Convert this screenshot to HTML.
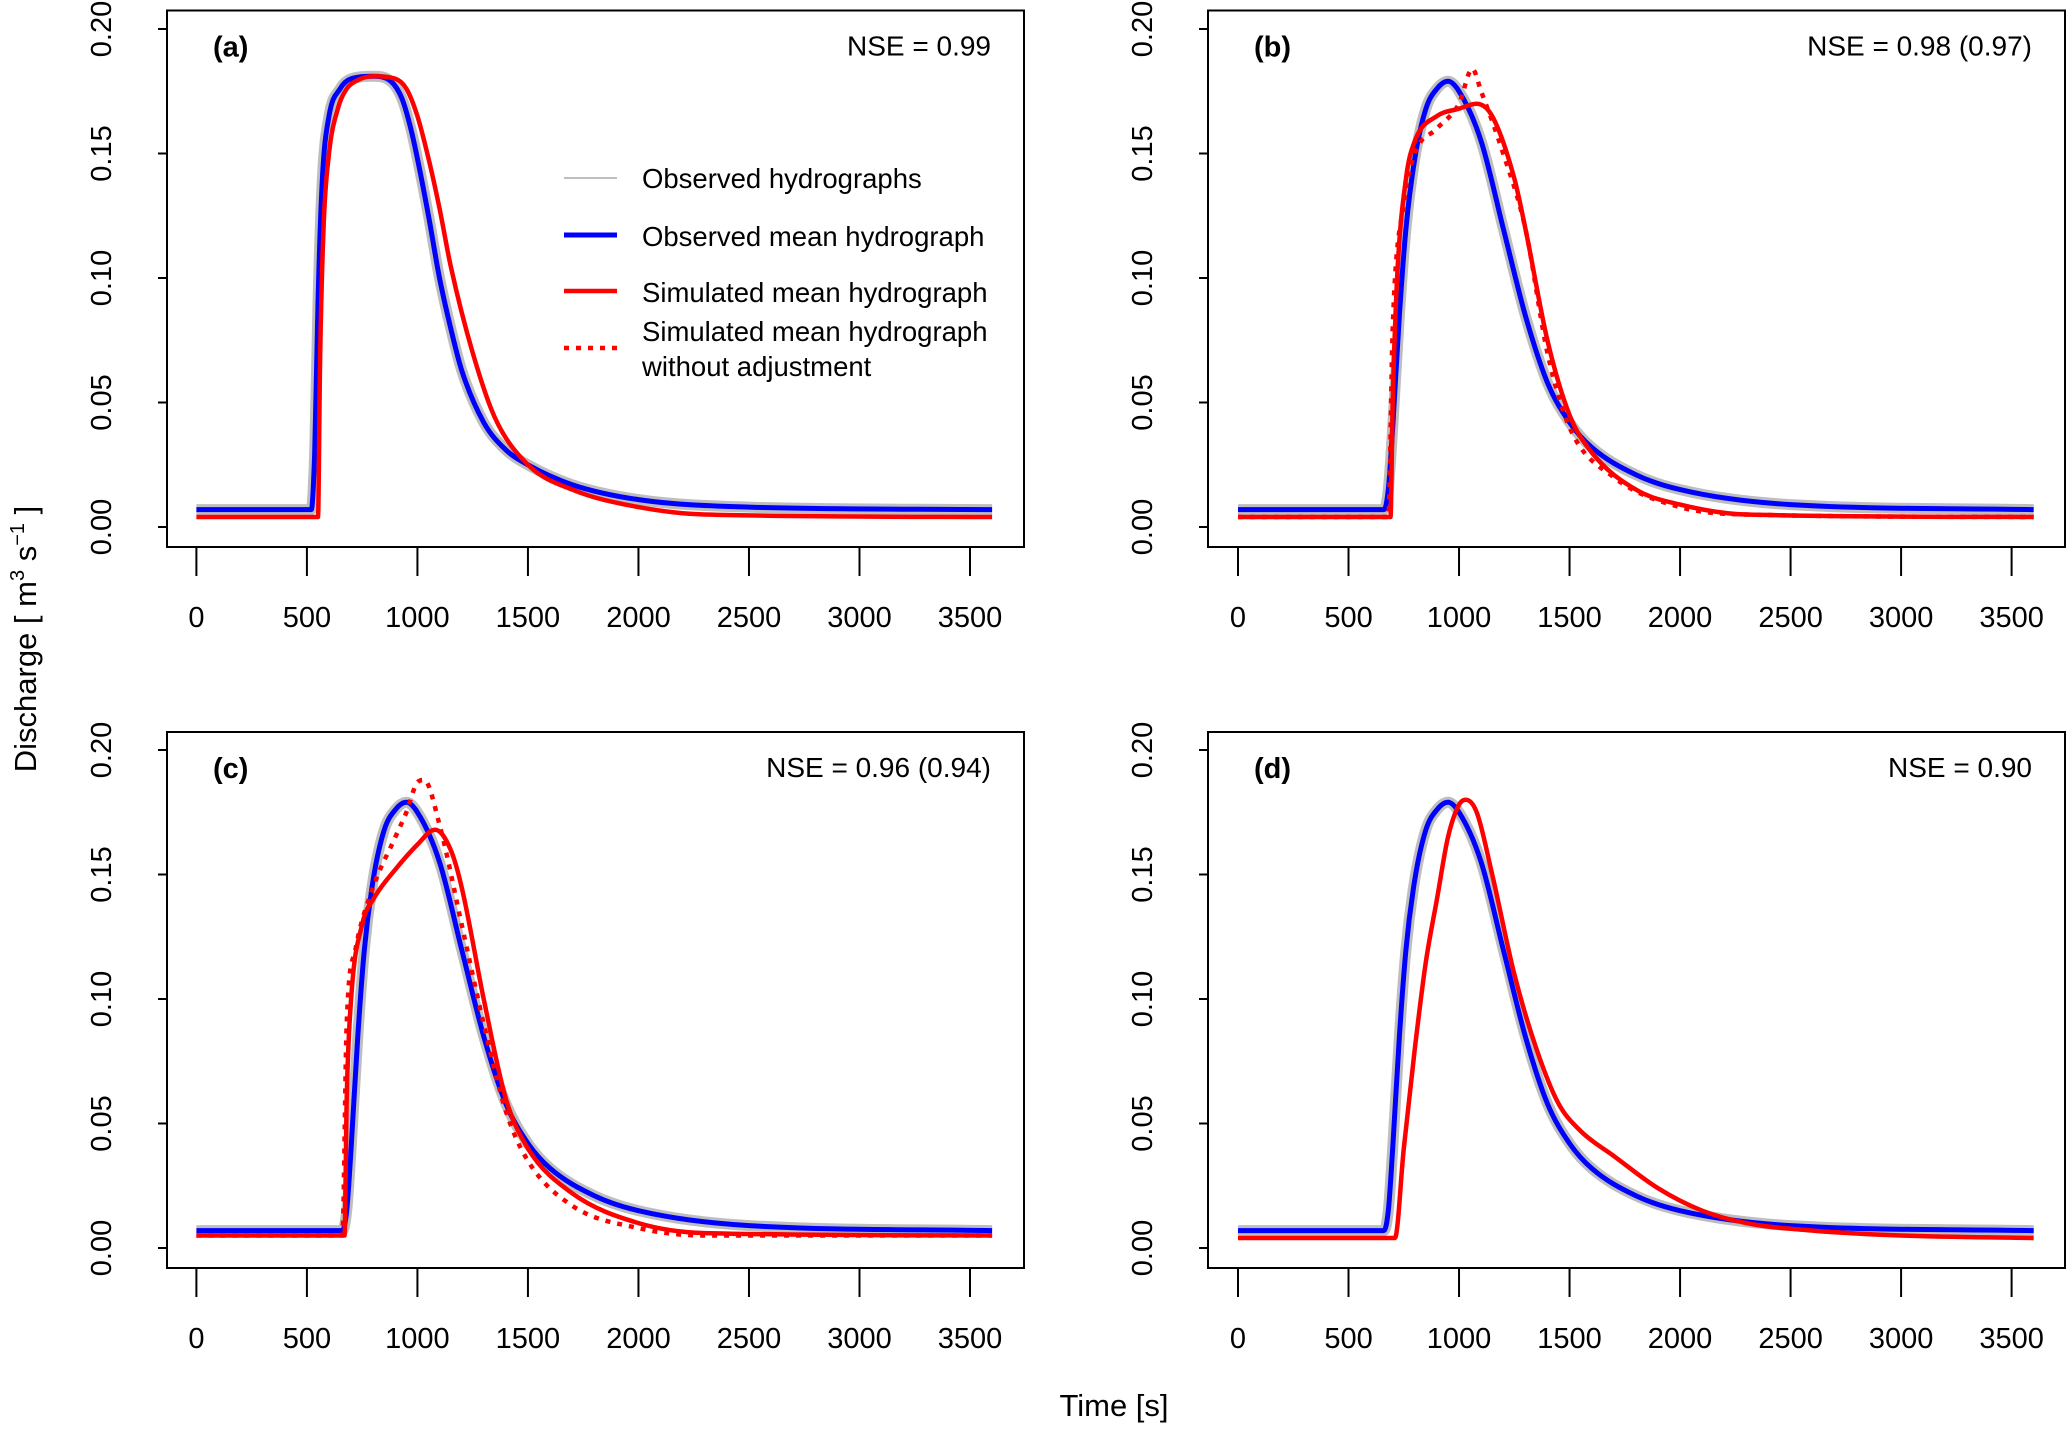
<!DOCTYPE html>
<html><head><meta charset="utf-8"><style>
body{margin:0;background:#fff}
svg text{font-family:"Liberation Sans",sans-serif}
</style></head><body>
<svg id="c" width="2067" height="1425" viewBox="0 0 2067 1425" xmlns="http://www.w3.org/2000/svg">
<text x="36" y="639" font-size="31" text-anchor="middle" transform="rotate(-90 36 639)">Discharge [ m<tspan font-size="20" dy="-12">3</tspan><tspan dy="12"> s</tspan><tspan font-size="20" dy="-12">−1</tspan><tspan dy="12"> ]</tspan></text>
<text x="1114" y="1416" font-size="31" text-anchor="middle">Time [s]</text>
</svg>
<script>
const xTicks=[0,500,1000,1500,2000,2500,3000,3500];
const yTicks=[0,0.05,0.10,0.15,0.20];
const panelLabels=["(a)","(b)","(c)","(d)"];
const nseLabels=["NSE = 0.99","NSE = 0.98 (0.97)","NSE = 0.96 (0.94)","NSE = 0.90"];
const obsA_t=[0,520,535,550,570,600,650,700,800,880,930,970,1000,1050,1100,1150,1200,1300,1400,1500,1700,2000,2500,3600];
const obsA_q=[0.007,0.007,0.03,0.09,0.14,0.165,0.176,0.18,0.181,0.179,0.172,0.16,0.148,0.125,0.10,0.08,0.063,0.042,0.031,0.025,0.017,0.011,0.008,0.007];
const simA_t=[0,550,560,575,600,640,680,720,800,900,950,1000,1050,1100,1150,1250,1350,1500,1700,2000,2300,3600];
const simA_q=[0.004,0.004,0.07,0.12,0.15,0.168,0.176,0.179,0.181,0.18,0.176,0.165,0.148,0.128,0.105,0.07,0.044,0.025,0.015,0.008,0.005,0.004];
const obs_t=[0,660,680,700,730,760,800,850,900,950,1000,1100,1200,1300,1400,1500,1600,1800,2000,2500,3600];
const obs_q=[0.007,0.007,0.015,0.04,0.085,0.12,0.148,0.168,0.176,0.179,0.175,0.155,0.12,0.085,0.058,0.042,0.032,0.021,0.015,0.009,0.007];
const simB_t=[0,690,700,720,760,800,900,1000,1080,1150,1250,1300,1400,1500,1600,1800,2000,2300,3600];
const simB_q=[0.004,0.004,0.05,0.10,0.14,0.155,0.165,0.168,0.17,0.165,0.14,0.12,0.075,0.045,0.03,0.015,0.009,0.005,0.004];
const simBd_t=[0,680,700,750,800,900,1000,1060,1100,1200,1300,1400,1500,1700,2000,2300,3600];
const simBd_q=[0.004,0.004,0.08,0.13,0.15,0.16,0.17,0.184,0.175,0.15,0.12,0.07,0.04,0.02,0.008,0.005,0.004];
const simC_t=[0,670,680,700,750,800,900,1000,1080,1150,1200,1300,1400,1500,1700,2000,2300,3600];
const simC_q=[0.005,0.005,0.06,0.10,0.13,0.14,0.152,0.162,0.168,0.16,0.145,0.10,0.06,0.04,0.022,0.01,0.006,0.005];
const simCd_t=[0,660,680,720,800,900,950,1000,1030,1100,1200,1300,1400,1500,1700,2000,2300,3600];
const simCd_q=[0.005,0.005,0.09,0.12,0.145,0.165,0.175,0.187,0.188,0.17,0.13,0.09,0.055,0.035,0.017,0.008,0.005,0.005];
const simD_t=[0,710,750,800,850,900,950,1000,1030,1080,1150,1250,1350,1450,1550,1700,1900,2100,2300,2600,3000,3600];
const simD_q=[0.004,0.004,0.04,0.08,0.115,0.14,0.165,0.178,0.18,0.175,0.15,0.11,0.08,0.058,0.047,0.037,0.024,0.015,0.01,0.007,0.005,0.004];

const NS="http://www.w3.org/2000/svg";
const svg=document.getElementById('c');
function mk(tag,attrs,parent){const e=document.createElementNS(NS,tag);for(const k in attrs)e.setAttribute(k,attrs[k]);(parent||svg).appendChild(e);return e;}
// monotone cubic path
function mono(xs,ys){
 const n=xs.length,d=[],m=[];
 for(let i=0;i<n-1;i++)d.push((ys[i+1]-ys[i])/(xs[i+1]-xs[i]));
 m[0]=d[0];m[n-1]=d[n-2];
 for(let i=1;i<n-1;i++){m[i]=(d[i-1]*d[i]<=0)?0:(d[i-1]+d[i])/2;}
 for(let i=0;i<n-1;i++){if(d[i]===0){m[i]=0;m[i+1]=0;continue;}const a=m[i]/d[i],b=m[i+1]/d[i],s=a*a+b*b;if(s>9){const t=3/Math.sqrt(s);m[i]=t*a*d[i];m[i+1]=t*b*d[i];}}
 let p='M'+xs[0].toFixed(1)+' '+ys[0].toFixed(1);
 for(let i=0;i<n-1;i++){const h=(xs[i+1]-xs[i])/3;
  p+=' C'+(xs[i]+h).toFixed(1)+' '+(ys[i]+m[i]*h).toFixed(1)+' '+(xs[i+1]-h).toFixed(1)+' '+(ys[i+1]-m[i+1]*h).toFixed(1)+' '+xs[i+1].toFixed(1)+' '+ys[i+1].toFixed(1);}
 return p;
}
const panels=[
 {bx:167,by:10.5,bw:857,bh:536.5,x0:196.4,y0:527,obsT:obsA_t,obsQ:obsA_q,sT:simA_t,sQ:simA_q,dT:null,dQ:null},
 {bx:1208,by:10.5,bw:857,bh:536.5,x0:1238,y0:527,obsT:obs_t,obsQ:obs_q,sT:simB_t,sQ:simB_q,dT:simBd_t,dQ:simBd_q},
 {bx:167,by:732,bw:857,bh:536,x0:196.4,y0:1248,obsT:obs_t,obsQ:obs_q,sT:simC_t,sQ:simC_q,dT:simCd_t,dQ:simCd_q},
 {bx:1208,by:732,bw:857,bh:536,x0:1238,y0:1248,obsT:obs_t,obsQ:obs_q,sT:simD_t,sQ:simD_q,dT:null,dQ:null}
];
const KX=773.6/3500, KY=2490;
panels.forEach((p,i)=>{
 const g=mk('g',{});
 
 
 const X=t=>p.x0+t*KX, Y=q=>p.y0-q*KY;
 const path=(T,Q)=>mono(T.map(X),Q.map(Y));
 const band=mk('path',{d:path(p.obsT,p.obsQ),fill:'none',stroke:'#bebebe','stroke-width':11,'stroke-linejoin':'round'},g);
 
 
 const ob=mk('path',{d:path(p.obsT,p.obsQ),fill:'none',stroke:'#0000ff','stroke-width':5,'stroke-linejoin':'round'},g);
 
 
 if(p.dT){const d=mk('path',{d:path(p.dT,p.dQ),fill:'none',stroke:'#ff0000','stroke-width':4.5,'stroke-dasharray':'5 7'},g);
  
  }
 const s=mk('path',{d:path(p.sT,p.sQ),fill:'none',stroke:'#ff0000','stroke-width':4.5,'stroke-linejoin':'round'},g);
 
 
 const box=mk('rect',{x:p.bx,y:p.by,width:p.bw,height:p.bh,fill:'none',stroke:'#000','stroke-width':2},g);
 
 
 xTicks.forEach(t=>{
  mk('line',{x1:X(t),x2:X(t),y1:p.by+p.bh,y2:p.by+p.bh+29,stroke:'#000','stroke-width':2},g);
  const tx=mk('text',{x:X(t),y:p.by+p.bh+80,'font-size':29,'text-anchor':'middle'},g);
  tx.textContent=t;
  
  
 });
 yTicks.forEach(q=>{
  mk('line',{x1:p.bx,x2:p.bx-9,y1:Y(q),y2:Y(q),stroke:'#000','stroke-width':2},g);
  const lx=p.bx-56;
  const tx=mk('text',{x:lx,y:Y(q),'font-size':29,'text-anchor':'middle',transform:`rotate(-90 ${lx} ${Y(q)})`},g);
  tx.textContent=q.toFixed(2);
  
  
 });
 const pl=mk('text',{x:p.bx+46,y:p.by+46,'font-size':29,'font-weight':'bold'},g);
 pl.textContent=panelLabels[i];
 
 
 const ns=mk('text',{x:p.bx+p.bw-33,y:p.by+45,'font-size':28,'text-anchor':'end'},g);
 ns.textContent=nseLabels[i];
 
 
});
const lg=mk('g',{});


const legItems=[["#bebebe",2,null,178],["#0000ff",5,null,235],["#ff0000",4.5,null,291],["#ff0000",4.5,"5 7",348]];
legItems.forEach(it=>{
 const a={x1:564,x2:617,y1:it[3],y2:it[3],stroke:it[0],'stroke-width':it[1]};
 if(it[2])a['stroke-dasharray']=it[2];
 mk('line',a,lg);
});
[["Observed hydrographs",188],["Observed mean hydrograph",246],["Simulated mean hydrograph",302],["Simulated mean hydrograph",341],["without adjustment",376]].forEach(r=>{
 const t=mk('text',{x:642,y:r[1],'font-size':27.5},lg);
 t.textContent=r[0];
 
 
});
</script>
</body></html>
